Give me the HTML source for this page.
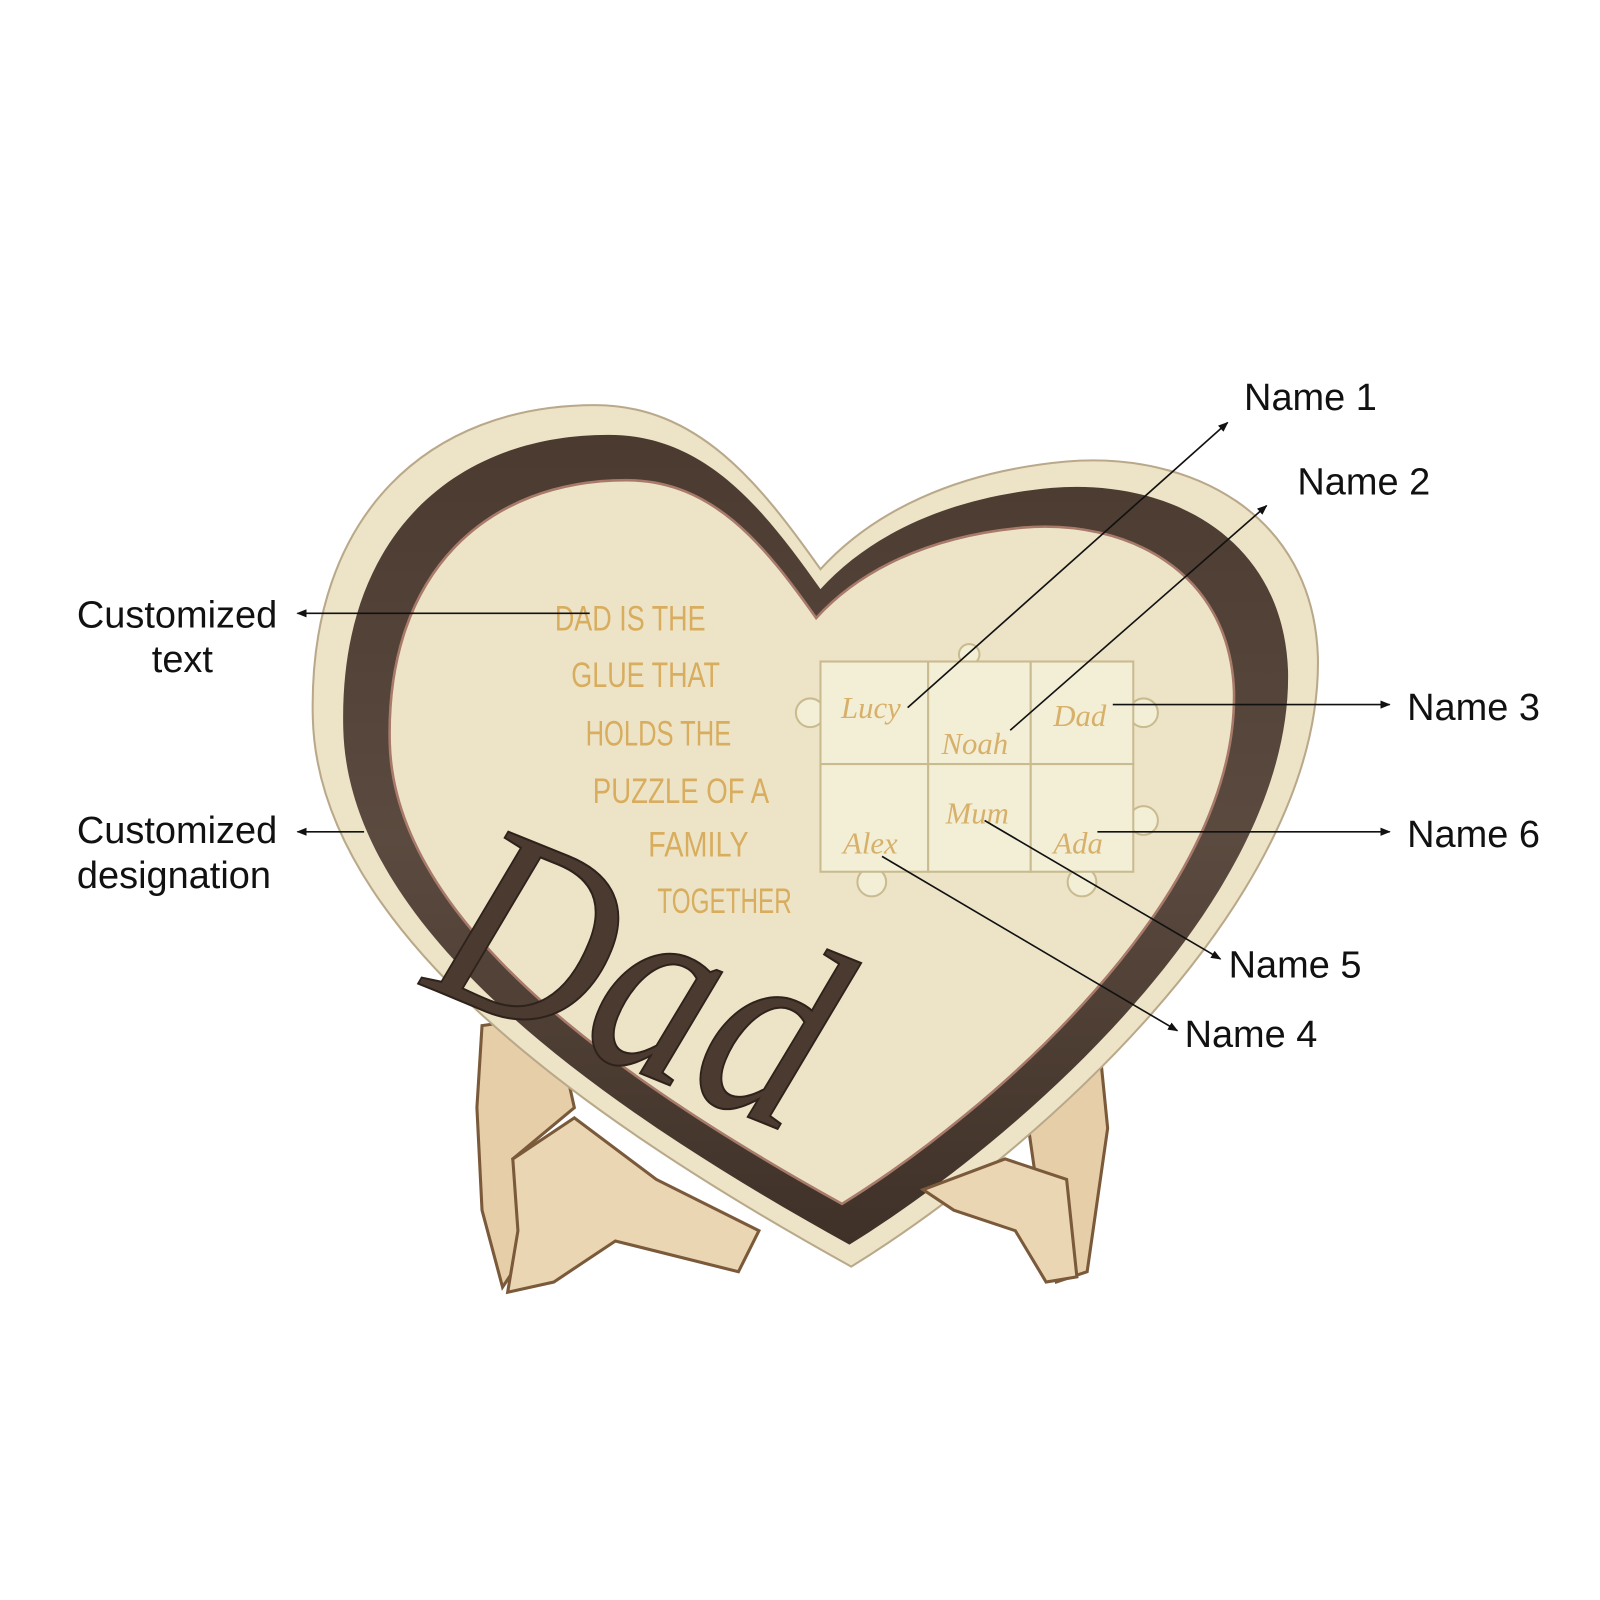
<!DOCTYPE html>
<html><head><meta charset="utf-8"><style>
html,body{margin:0;padding:0;background:#fff;}
svg{display:block;}
.lbl{font-family:"Liberation Sans",sans-serif;font-size:37px;fill:#111;}
.q{font-family:"Liberation Sans",sans-serif;font-size:34px;fill:#d8ad5e;}
.nm{font-family:"Liberation Serif",serif;font-style:italic;font-size:30px;fill:#d7b06a;}
</style></head><body>
<svg width="1600" height="1600" viewBox="0 0 1600 1600" xmlns="http://www.w3.org/2000/svg">
<defs>
<marker id="ar" markerWidth="10" markerHeight="8" refX="9" refY="4" orient="auto" markerUnits="userSpaceOnUse"><path d="M0,0 L10,4 L0,8 Z" fill="#111"/></marker>
<path id="heart" d="M800 555 C740 470 680 395 580 395 C420 395 300 500 305 700 C310 900 550 1080 830 1235 C1000 1130 1290 880 1285 640 C1280 500 1160 440 1040 450 C930 460 850 500 800 555 Z"/>
<linearGradient id="wood" x1="0" y1="0" x2="0" y2="1"><stop offset="0" stop-color="#4a3a30"/><stop offset="0.5" stop-color="#5b4a3f"/><stop offset="1" stop-color="#3f3128"/></linearGradient>
</defs>
<g transform="scale(1.0256)">
<path d="M470 1000 L540 990 L560 1080 L500 1130 L520 1210 L490 1255 L470 1180 L465 1080 Z" fill="#e6cfa8" stroke="#7a5a3a" stroke-width="3"/>
<path d="M1040 995 L1070 1000 L1080 1100 L1060 1240 L1030 1250 L1010 1150 L1000 1080 Z" fill="#e6cfa8" stroke="#7a5a3a" stroke-width="3"/>
<use href="#heart" fill="#ede3c6" stroke="#b9a98a" stroke-width="2"/>
<use href="#heart" fill="url(#wood)" transform="translate(800 800) scale(0.94) translate(-800 -795)"/>
<use href="#heart" fill="#ede4c8" stroke="#a87a6a" stroke-width="3" transform="translate(800 800) scale(0.84) translate(-805 -790)"/>
<path d="M500 1130 L560 1090 L640 1150 L740 1200 L720 1240 L600 1210 L540 1250 L495 1260 L505 1200 Z" fill="#ead6b2" stroke="#7a5a3a" stroke-width="3"/>
<path d="M900 1160 L980 1130 L1040 1150 L1050 1245 L1020 1250 L990 1200 L930 1180 Z" fill="#ead6b2" stroke="#7a5a3a" stroke-width="3"/>
<text x="410" y="960" font-family="Liberation Serif,serif" font-style="italic" font-size="260" fill="#4a3a30" stroke="#2e221b" stroke-width="2" transform="rotate(22 410 960)" textLength="390" lengthAdjust="spacingAndGlyphs">Dad</text>
<text class="q" x="541" y="615" textLength="147" lengthAdjust="spacingAndGlyphs">DAD IS THE</text>
<text class="q" x="557" y="670" textLength="145" lengthAdjust="spacingAndGlyphs">GLUE THAT</text>
<text class="q" x="571" y="727" textLength="142" lengthAdjust="spacingAndGlyphs">HOLDS THE</text>
<text class="q" x="578" y="783" textLength="172" lengthAdjust="spacingAndGlyphs">PUZZLE OF A</text>
<text class="q" x="632" y="835" textLength="98" lengthAdjust="spacingAndGlyphs">FAMILY</text>
<text class="q" x="641" y="890" textLength="131" lengthAdjust="spacingAndGlyphs">TOGETHER</text>
<g fill="#f3eed6" stroke="#c9bb8f" stroke-width="2">
<circle cx="790" cy="695" r="14"/><circle cx="1115" cy="695" r="14"/>
<circle cx="1115" cy="800" r="14"/><circle cx="850" cy="860" r="14"/>
<circle cx="1055" cy="860" r="14"/><circle cx="945" cy="638" r="10"/>
<rect x="800" y="645" width="105" height="100"/>
<rect x="905" y="645" width="100" height="100"/>
<rect x="1005" y="645" width="100" height="100"/>
<rect x="800" y="745" width="105" height="105"/>
<rect x="905" y="745" width="100" height="105"/>
<rect x="1005" y="745" width="100" height="105"/>
</g>
<text class="nm" x="820" y="700">Lucy</text>
<text class="nm" x="918" y="735">Noah</text>
<text class="nm" x="1027" y="708">Dad</text>
<text class="nm" x="822" y="832">Alex</text>
<text class="nm" x="922" y="803">Mum</text>
<text class="nm" x="1027" y="832">Ada</text>
<g stroke="#111" stroke-width="1.6" fill="none" marker-end="url(#ar)">
<line x1="575" y1="598" x2="290" y2="598"/>
<line x1="355" y1="811" x2="290" y2="811"/>
<line x1="885" y1="690" x2="1197" y2="412"/>
<line x1="985" y1="712" x2="1235" y2="493"/>
<line x1="1085" y1="687" x2="1355" y2="687"/>
<line x1="1070" y1="811" x2="1355" y2="811"/>
<line x1="960" y1="800" x2="1190" y2="935"/>
<line x1="860" y1="835" x2="1148" y2="1005"/>
</g>
<text class="lbl" x="75" y="612">Customized</text>
<text class="lbl" x="148" y="655">text</text>
<text class="lbl" x="75" y="822">Customized</text>
<text class="lbl" x="75" y="866">designation</text>
<text class="lbl" x="1213" y="400">Name 1</text>
<text class="lbl" x="1265" y="482">Name 2</text>
<text class="lbl" x="1372" y="702">Name 3</text>
<text class="lbl" x="1372" y="826">Name 6</text>
<text class="lbl" x="1198" y="953">Name 5</text>
<text class="lbl" x="1155" y="1021">Name 4</text>
</g>
</svg>
</body></html>
